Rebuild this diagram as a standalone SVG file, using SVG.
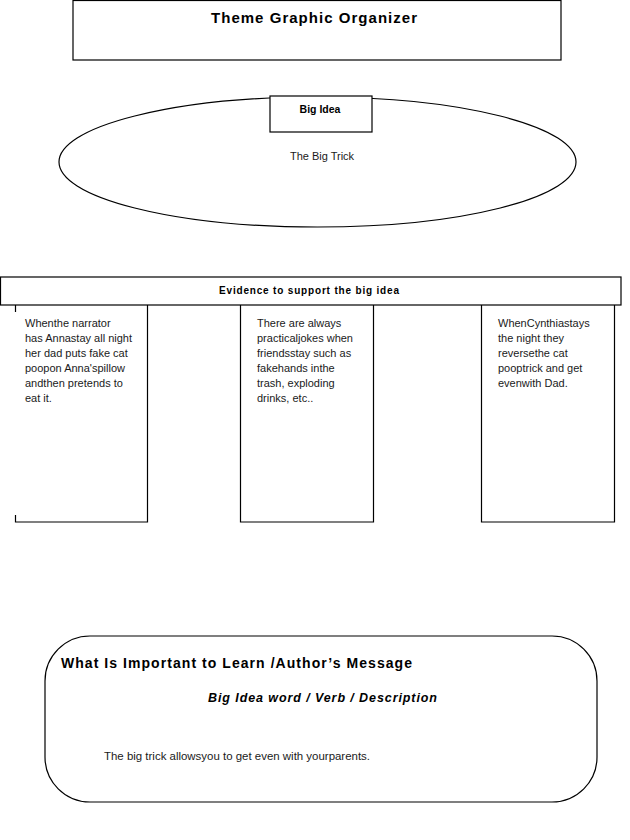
<svg xmlns="http://www.w3.org/2000/svg" width="630" height="840" viewBox="0 0 630 840">
<style>
.box{fill:#fff;stroke:#000;stroke-width:1.2}
.ln{fill:none;stroke:#000;stroke-width:1.2}
text{font-family:"Liberation Sans",Arial,sans-serif;fill:#000}
.h{font-weight:bold}
.b{font-size:11px;fill:#1a1a1a}
</style>
<rect width="630" height="840" fill="#fff"/>
<g id="title">
<rect class="box" x="73" y="0.5" width="488" height="59.5"/>
<text class="h" x="314" y="23" font-size="15" text-anchor="middle" textLength="206" lengthAdjust="spacing">Theme  Graphic  Organizer</text>
</g>
<g id="big-idea">
<ellipse class="ln" cx="317.5" cy="162" rx="258.5" ry="65" stroke-width="1"/>
<rect class="box" x="270" y="96" width="102" height="36"/>
<text class="h" x="320" y="113" font-size="10.5" text-anchor="middle">Big Idea</text>
<text class="b" x="322" y="160" text-anchor="middle">The Big Trick</text>
</g>
<g id="evidence">
<rect class="box" x="0.5" y="277" width="620.5" height="28"/>
<text class="h" x="309" y="294" font-size="10" text-anchor="middle" textLength="180" lengthAdjust="spacing">Evidence to support the big idea</text>
</g>
<g id="col1">
<path class="ln" d="M15.5,305 V312 M15.5,515 V522 H147.5 V305"/>
<text class="b" x="25">
<tspan x="25" y="327">Whenthe narrator</tspan>
<tspan x="25" y="342">has Annastay all night</tspan>
<tspan x="25" y="357">her dad puts fake cat</tspan>
<tspan x="25" y="372">poopon Anna'spillow</tspan>
<tspan x="25" y="387">andthen pretends to</tspan>
<tspan x="25" y="402">eat it.</tspan>
</text>
</g>
<g id="col2">
<path class="ln" d="M240.5,305 V522 H373.5 V305"/>
<text class="b">
<tspan x="257" y="327">There are always</tspan>
<tspan x="257" y="342">practicaljokes when</tspan>
<tspan x="257" y="357">friendsstay such as</tspan>
<tspan x="257" y="372">fakehands inthe</tspan>
<tspan x="257" y="387">trash, exploding</tspan>
<tspan x="257" y="402">drinks, etc..</tspan>
</text>
</g>
<g id="col3">
<path class="ln" d="M481.5,305 V522 H614.5 V305"/>
<text class="b">
<tspan x="498" y="327">WhenCynthiastays</tspan>
<tspan x="498" y="342">the night they</tspan>
<tspan x="498" y="357">reversethe cat</tspan>
<tspan x="498" y="372">pooptrick and get</tspan>
<tspan x="498" y="387">evenwith Dad.</tspan>
</text>
</g>
<g id="message">
<rect class="box" x="45" y="636" width="552" height="166" rx="45" ry="45" stroke-width="1"/>
<text class="h" x="61" y="668" font-size="14" textLength="351" lengthAdjust="spacing">What Is Important to Learn /Author’s Message</text>
<text class="h" x="208" y="702" font-size="12.5" font-style="italic" textLength="229" lengthAdjust="spacing">Big Idea word / Verb / Description</text>
<text class="b" x="104" y="760" textLength="266" lengthAdjust="spacingAndGlyphs">The big trick allowsyou to get even with yourparents.</text>
</g>
</svg>
